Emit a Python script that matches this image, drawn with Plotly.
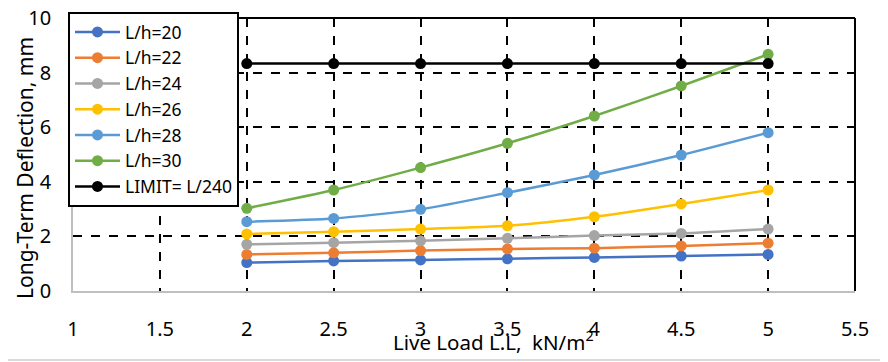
import plotly.graph_objects as go

live_load = [2, 2.5, 3, 3.5, 4, 4.5, 5]
series_names = ["L/h=20", "L/h=22", "L/h=24", "L/h=26", "L/h=28", "L/h=30", "LIMIT= L/240"]
lh20 = [1.04, 1.10, 1.14, 1.18, 1.23, 1.28, 1.34]
lh22 = [1.34, 1.40, 1.48, 1.54, 1.57, 1.65, 1.75]
lh24 = [1.71, 1.77, 1.84, 1.93, 2.03, 2.11, 2.27]
lh26 = [2.09, 2.17, 2.27, 2.39, 2.72, 3.19, 3.70]
lh28 = [2.54, 2.66, 2.99, 3.60, 4.25, 4.98, 5.80]
lh30 = [3.03, 3.70, 4.52, 5.41, 6.41, 7.51, 8.67]
limit = [8.33, 8.33, 8.33, 8.33, 8.33, 8.33, 8.33]
colors = ["#4472C4", "#ED7D31", "#A5A5A5", "#FFC000", "#5B9BD5", "#70AD47", "#000000"]
x_ticks = [1, 1.5, 2, 2.5, 3, 3.5, 4, 4.5, 5, 5.5]
y_ticks = [0, 2, 4, 6, 8, 10]

FONT = "Noto Sans"
OFF = 8  # page body margin offset in the screenshot
W, H = 888 - OFF, 362 - OFF
L, R, T, B = 73 - OFF, 888 - 855, 18 - OFF, 362 - 291
pw, ph = W - L - R, H - T - B


def px(sx):
    return (sx - OFF - L) / pw


def py(sy):
    return 1 - (sy - OFF - T) / ph


fig = go.Figure()
for name, ys, c in zip(series_names, [lh20, lh22, lh24, lh26, lh28, lh30, limit], colors):
    fig.add_trace(go.Scatter(
        x=live_load, y=ys, name=name, mode="lines+markers",
        line=dict(color=c, width=2.5, shape="spline", smoothing=0.6),
        marker=dict(color=c, size=11),
    ))

fig.update_layout(
    width=W, height=H,
    margin=dict(l=L, r=R, t=T, b=B, autoexpand=False),
    paper_bgcolor="white", plot_bgcolor="white",
    font=dict(family=FONT, size=17, color="black"),
    showlegend=True,
    legend=dict(
        x=px(68), y=py(12), xanchor="left", yanchor="top",
        bgcolor="white", bordercolor="black", borderwidth=2,
        font=dict(family=FONT, size=17.5, color="black"),
        itemwidth=45, maxheight=500, entrywidth=125, entrywidthmode="pixels",
    ),
    xaxis=dict(
        range=[1, 5.5], tickvals=x_ticks, ticktext=[str(v) for v in x_ticks],
        showgrid=True, gridcolor="black", griddash="dash", gridwidth=1.5,
        showline=True, linecolor="#BFBFBF", linewidth=1.5, automargin=False,
        zeroline=False, ticks="", ticklabelstandoff=19, ticklabeloverflow="allow",
        tickfont=dict(family=FONT, size=20),
    ),
    yaxis=dict(
        range=[0, 10], tickvals=y_ticks, automargin=False,
        showgrid=True, gridcolor="black", griddash="dash", gridwidth=1.5,
        showline=True, linecolor="#BFBFBF", linewidth=1.5,
        zeroline=False, ticks="", ticklabelstandoff=16, ticklabeloverflow="allow",
        tickfont=dict(family=FONT, size=20),
    ),
    shapes=[
        dict(type="line", xref="paper", yref="paper", x0=0, x1=1, y0=1, y1=1,
             line=dict(color="black", width=2)),
        dict(type="line", xref="paper", yref="paper", x0=1, x1=1, y0=0, y1=1,
             line=dict(color="black", width=2)),
        dict(type="line", xref="paper", yref="paper", x0=px(886), x1=px(886), y0=py(0), y1=py(361),
             line=dict(color="#D9D9D9", width=2)),
        dict(type="line", xref="paper", yref="paper", x0=px(0), x1=px(887), y0=py(360), y1=py(360),
             line=dict(color="#D9D9D9", width=2)),
    ],
    annotations=[
        dict(text="Live Load L.L,  kN/m<sup>2</sup>", xref="paper", yref="paper",
             x=px(493), y=py(341), xanchor="center", yanchor="middle",
             showarrow=False, font=dict(family=FONT, size=20.5, color="black")),
        dict(text="Long-Term Deflection, mm", xref="paper", yref="paper", textangle=-90,
             x=px(25), y=py(168), xanchor="center", yanchor="middle",
             showarrow=False, font=dict(family=FONT, size=21, color="black")),
    ],
)

fig.write_html("out.html")
